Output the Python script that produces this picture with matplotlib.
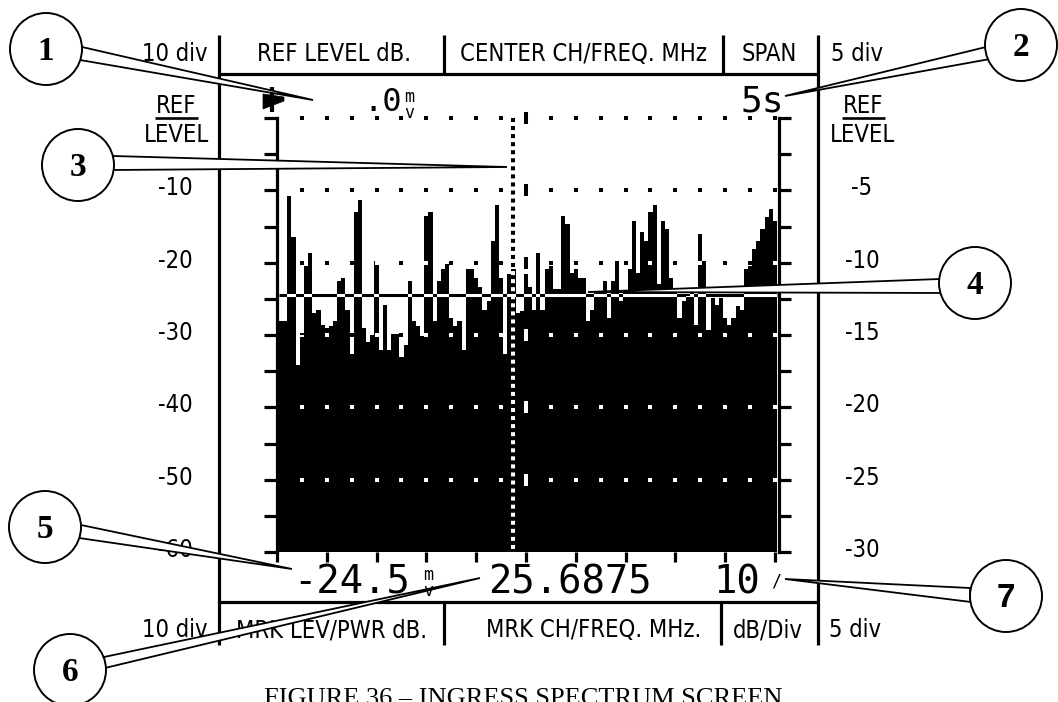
import numpy as np
import matplotlib
matplotlib.use("Agg")
import matplotlib.pyplot as plt
from matplotlib.patches import Polygon, Circle
from matplotlib import font_manager as fm

# ---------------- data ----------------
levels_db = [-28.1, -28.1, -10.8, -16.5, -34.2, -30.0, -20.5, -18.6, -27.0, -26.5,
             -28.6, -29.0, -28.8, -28.1, -22.6, -22.1, -26.5, -32.6, -13.0, -11.4,
             -29.0, -30.9, -30.0, -19.8, -32.1, -25.9, -32.1, -29.9, -29.9, -33.0,
             -31.4, -22.6, -28.1, -28.8, -30.2, -13.5, -13.0, -28.1, -22.6, -20.9,
             -20.2, -27.7, -28.8, -28.1, -32.1, -20.9, -20.9, -22.1, -23.3, -26.5,
             -25.3, -17.0, -12.0, -22.1, -32.6, -21.6, -20.9, -27.0, -26.7, -21.6,
             -23.3, -26.5, -18.6, -26.5, -20.9, -20.5, -23.7, -23.7, -13.6, -14.7,
             -21.4, -20.9, -22.1, -22.1, -28.1, -26.5, -24.2, -24.0, -22.6, -27.7,
             -22.6, -19.8, -25.3, -24.0, -20.9, -14.2, -21.4, -15.8, -17.0, -13.0,
             -12.0, -23.0, -14.2, -15.3, -22.1, -23.5, -27.7, -25.3, -24.6, -24.2,
             -28.6, -16.0, -19.8, -29.3, -24.9, -25.8, -24.9, -27.7, -28.6, -27.7,
             -26.0, -26.5, -20.9, -20.5, -18.1, -17.0, -15.3, -13.7, -12.6, -14.2]
grid_rows_db = [0, -10, -20, -30, -40, -50]
left_scale = ["-10", "-20", "-30", "-40", "-50", "-60"]
right_scale = ["-5", "-10", "-15", "-20", "-25", "-30"]
left_scale_db = [-10, -20, -30, -40, -50, -60]
threshold_db = -24.5
marker_col = 56
center_col = 59.5
db_top, db_bottom = 0, -60

top_labels = ["REF LEVEL dB.", "CENTER CH/FREQ. MHz", "SPAN"]
bottom_labels = ["MRK LEV/PWR dB.", "MRK CH/FREQ. MHz.", "dB/Div"]
ref_readout = ".0"
span_readout = "5s"
mrk_level = "-24.5"
mrk_freq = "25.6875"
scale_readout = "10"
unit_glyph = "m\nv"
caption = "FIGURE 36 \u2013 INGRESS SPECTRUM SCREEN"

# ---------------- fonts ----------------
def pick_narrow():
    for fam in ["Liberation Sans Narrow", "Arial Narrow"]:
        try:
            fm.findfont(fm.FontProperties(family=fam), fallback_to_default=False)
            return [fam], 20
        except Exception:
            pass
    try:
        p = fm.findfont(fm.FontProperties(family="DejaVu Sans", stretch="condensed"))
        if "Condensed" in p:
            return ["DejaVu Sans"], 17
    except Exception:
        pass
    return ["Liberation Sans"], 16.5

NARROW, NSIZE = pick_narrow()
NSTRETCH = "condensed"
LCD = ["DejaVu Sans Mono"]

W, H = 1058, 702
fig = plt.figure(figsize=(W / 100, H / 100), dpi=100)
fig.patch.set_facecolor("white")

PX_L, PX_R, PX_T, PX_B = 279.0, 777.0, 118.0, 552.0
ax = fig.add_axes([PX_L / W, 1 - PX_B / H, (PX_R - PX_L) / W, (PX_B - PX_T) / H])
n = len(levels_db)
ax.set_xlim(0, n)
ax.set_ylim(db_bottom, db_top)
ax.axis("off")
ax.set_zorder(1)
DX = n / (PX_R - PX_L)                      # data units per pixel (x)
DY = (db_top - db_bottom) / (PX_B - PX_T)   # dB per pixel

def px_y(db):
    return PX_T + (db_top - db) / DY

edges = np.arange(n + 1)
bars = ax.stairs(levels_db, edges, baseline=db_bottom, fill=True,
                 color="black", lw=0, zorder=2)

def xor_line(xs, ys, **kw):
    ax.plot(xs, ys, color="black", zorder=3, clip_on=False, **kw)
    ln, = ax.plot(xs, ys, color="white", zorder=4, **kw)
    ln.set_clip_path(bars)

def xor_dots(xs, ys, **kw):
    ax.scatter(xs, ys, color="black", zorder=3, clip_on=False, **kw)
    sc = ax.scatter(xs, ys, color="white", zorder=4, **kw)
    sc.set_clip_path(bars)

# dotted graticule
dot_x = 5.5 + 6 * np.arange(20)
for r in grid_rows_db:
    xor_dots(dot_x, np.full(dot_x.shape, r), marker="s", s=8, linewidths=0)
# centre graticule dashes
for r in grid_rows_db:
    xor_line([center_col, center_col], [r + 6 * DY, r - 6 * DY],
             lw=2.9, solid_capstyle="butt")
# marker line
xor_line([marker_col + 0.5] * 2, [db_top, db_bottom], lw=2.9,
         dashes=(1, 1), dash_capstyle="butt")
# threshold line
xor_line([0, n], [threshold_db] * 2, lw=2.2, solid_capstyle="butt")

# axes lines & ticks
AX_LW = 2.3
lx, rx = -0.5, n + 0.5
ax.plot([lx, lx], [db_bottom, db_top], color="black", lw=AX_LW, clip_on=False, zorder=5)
ax.plot([rx, rx], [db_bottom, db_top], color="black", lw=AX_LW, clip_on=False, zorder=5)
for t in np.arange(db_top, db_bottom - 1, -5):
    ax.plot([lx - 13 * DX, lx], [t, t], color="black", lw=AX_LW, clip_on=False,
            zorder=5, solid_capstyle="butt")
    ax.plot([rx, rx + 12 * DX], [t, t], color="black", lw=AX_LW, clip_on=False,
            zorder=5, solid_capstyle="butt")
for t in np.linspace(-0.5, n - 0.5, 11):
    ax.plot([t, t], [db_bottom, db_bottom - 10 * DY], color="black", lw=AX_LW,
            clip_on=False, zorder=5, solid_capstyle="butt")

# ---------------- overlay (pixel coordinates) ----------------
ov = fig.add_axes([0, 0, 1, 1])
ov.set_xlim(0, W)
ov.set_ylim(H, 0)
ov.axis("off")
ov.set_zorder(10)
ov.patch.set_visible(False)

FR = 2.3
def seg(x0, y0, x1, y1, lw=FR):
    ov.plot([x0, x1], [y0, y1], color="black", lw=lw, solid_capstyle="butt")

seg(218.5, 35, 218.5, 645)
seg(818, 35, 818, 645)
seg(218.5, 73.5, 818, 73.5)
seg(443.5, 35, 443.5, 73.5)
seg(723, 35, 723, 73.5)
seg(218.5, 602, 818, 602)
seg(443.5, 602, 443.5, 645)
seg(721, 602, 721, 645)

def ntext(x, y, s, ha="center"):
    ov.text(x, y, s, ha=ha, va="baseline", fontsize=NSIZE, family=NARROW,
            fontstretch=NSTRETCH, color="black")

ntext(208, 61, "10 div", ha="right")
for s, cx in zip(top_labels, [334, 583, 769]):
    ntext(cx, 61, s)
ntext(831, 61, "5 div", ha="left")

ntext(208, 637, "10 div", ha="right")
for s, cx in zip(bottom_labels, [331, 594, 768]):
    ntext(cx, 637, s)
ntext(829, 637, "5 div", ha="left")

# side REF LEVEL labels
for cx in [176.5, 863]:
    ntext(cx, 113, "REF")
    ntext(cx, 142, "LEVEL")
    seg(cx - 21.5, 117.5, cx + 21.5, 117.5, lw=1.9)
for s, sr, d in zip(left_scale, right_scale, left_scale_db):
    y = px_y(d) + 5
    ntext(193, y, s, ha="right")
    ntext(862, y, sr)

# LCD readouts
ov.text(402, 111, ref_readout, ha="right", va="baseline", fontsize=23, family=LCD)
ov.text(409, 88, unit_glyph, ha="center", va="top", fontsize=12, family=LCD,
        linespacing=0.85)
ov.text(784, 111, span_readout, ha="right", va="baseline", fontsize=26, family=LCD)
ov.text(293, 593, mrk_level, ha="left", va="baseline", fontsize=28, family=LCD)
ov.text(428, 566, unit_glyph, ha="center", va="top", fontsize=12, family=LCD,
        linespacing=0.85)
ov.text(488, 593, mrk_freq, ha="left", va="baseline", fontsize=28, family=LCD)
ov.text(713, 593, scale_readout, ha="left", va="baseline", fontsize=28, family=LCD)
ov.text(776, 586, "/", ha="center", va="baseline", fontsize=12, family=LCD)

# reference pointer glyph
ov.add_patch(Polygon([(263, 94), (284, 97), (284, 101), (263, 109)], closed=True,
                     fc="black", ec="black", lw=0.5))
seg(271.5, 87, 271.5, 112, lw=3)

# callouts
callouts = [
    ("1", (46, 49), (82, 47), (80, 60), (313, 100), "serif"),
    ("2", (1021, 45), (986, 47), (990, 59), (785, 96), "serif"),
    ("3", (78, 165), (113, 156), (113, 170), (507, 167), "serif"),
    ("4", (975, 283), (940, 279), (941, 293), (588, 292), "serif"),
    ("5", (45, 527), (81, 525), (79, 538), (292, 569), "serif"),
    ("6", (70, 670), (104, 657), (105, 668), (480, 578), "serif"),
    ("7", (1006, 596), (970, 588), (971, 602), (785, 579), "sans"),
]
for num, c, p1, p2, tip, kind in callouts:
    ov.add_patch(Polygon([p1, tip, p2], closed=True, fc="white", ec="black",
                         lw=1.3, zorder=5, joinstyle="miter"))
    ov.add_patch(Circle(c, 36, fc="white", ec="black", lw=1.4, zorder=6))
    fam = ["Liberation Serif"] if kind == "serif" else ["Liberation Sans"]
    ov.text(c[0], c[1] + 11, num, ha="center", va="baseline", fontsize=24,
            fontweight="bold", family=fam, zorder=7)

ov.text(523, 688, caption, ha="center", va="top", fontsize=19,
        family=["Liberation Serif"])

fig.savefig("out.png", dpi=100, facecolor="white")
